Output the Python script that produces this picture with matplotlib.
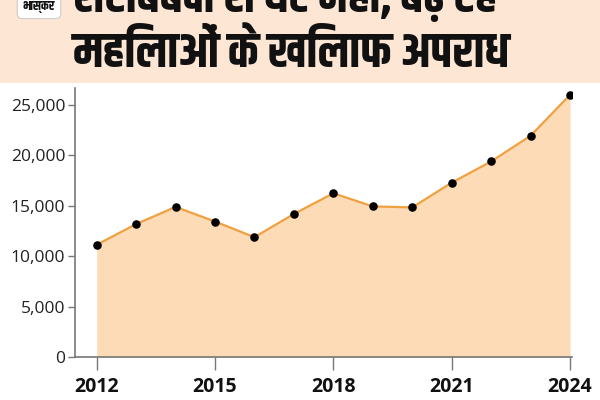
import matplotlib
matplotlib.use("Agg")
import matplotlib.pyplot as plt
from matplotlib.patches import Rectangle

# crimes against women per year
years = [2012, 2013, 2014, 2015, 2016, 2017, 2018, 2019, 2020, 2021, 2022, 2023, 2024]
cases = [11150, 13200, 14900, 13450, 11900, 14200, 16250, 14950, 14850, 17300, 19400, 21950, 26000]
xticks = [2012, 2015, 2018, 2021, 2024]
yticks = [0, 5000, 10000, 15000, 20000, 25000]
title1 = "शराबबंदी से घटे नहीं, बढ़ रहे"
title2 = "महिलाओं के खिलाफ अपराध"
logo = "भास्कर"

hindi = ["Khand", "Hind", "Mukta", "DejaVu Sans"]
plt.rcParams["font.family"] = ["Open Sans", "DejaVu Sans"]

fig = plt.figure(figsize=(6, 4), dpi=100)
fig.patch.set_facecolor("white")

# header band
fig.patches.append(Rectangle((0, 1 - 83 / 400), 1, 83 / 400, transform=fig.transFigure,
                             facecolor="#fde7d4", edgecolor="none", zorder=0))
fig.text(0.122, 1 - 12 / 400, title1, family=hindi, fontweight="bold", fontsize=35,
         color="#111111", va="baseline", ha="left")
fig.text(0.122, 1 - 67 / 400, title2, family=hindi, fontweight="bold", fontsize=35,
         color="#111111", va="baseline", ha="left")
fig.text(0.065, 1 - 7 / 400, logo, family=hindi, fontweight="bold", fontsize=9,
         color="#111111", va="center", ha="center",
         bbox=dict(boxstyle="round,pad=0.45,rounding_size=0.4", facecolor="white",
                   edgecolor="#cccccc", linewidth=0.8))

ax = fig.add_axes([75 / 600, 1 - 357.3 / 400, (572 - 75) / 600, (357.3 - 88.3) / 400])
ax.fill_between(years, cases, 0, color="#fcdbb6", linewidth=0, zorder=1)
ax.plot(years, cases, color="#f0a040", linewidth=1.6, zorder=2)
ax.scatter(years, cases, s=38, color="black", zorder=3, linewidths=0)

ax.set_xlim(2011.45, 2024.05)
ax.set_ylim(0, 26650)
ax.set_xticks(xticks)
ax.set_xticklabels([str(y) for y in xticks], fontweight="bold", fontsize=14, color="#111111")
ax.set_yticks(yticks)
ax.set_yticklabels(["{:,}".format(v) for v in yticks], fontsize=12.5, color="#222222")
ax.tick_params(axis="y", length=5, width=1, color="#777777", pad=2)
ax.tick_params(axis="x", length=9, width=1, color="#777777", pad=5)
for s in ["top", "right"]:
    ax.spines[s].set_visible(False)
for s in ["left", "bottom"]:
    ax.spines[s].set_color("#777777")
    ax.spines[s].set_linewidth(1.2)

fig.savefig("out.png", dpi=100)
